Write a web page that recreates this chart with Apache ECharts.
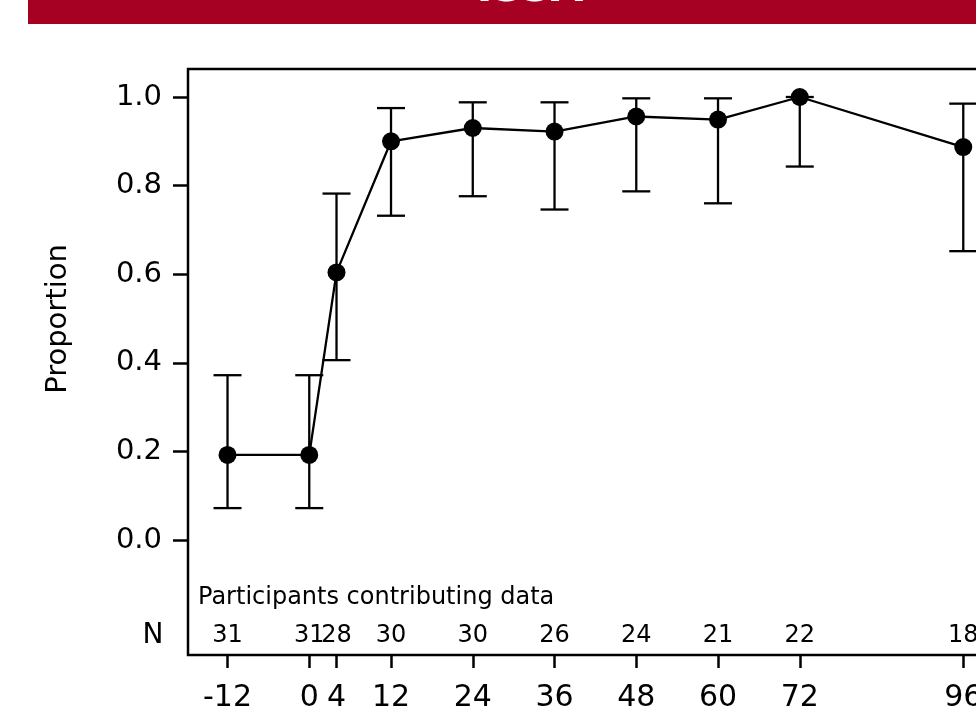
<!DOCTYPE html>
<html>
<head>
<meta charset="utf-8">
<script src="https://cdn.jsdelivr.net/npm/echarts@6/dist/echarts.min.js"></script>
<style>
html,body{margin:0;padding:0;overflow:hidden;background:#fff;width:976px;height:714px;}
#chart{width:1100px;height:800px;}
</style>
</head>
<body>
<div id="chart"></div>
<script>
// Data
var months = [-12, 0, 4, 12, 24, 36, 48, 60, 72, 96];
var proportion = [0.192, 0.192, 0.604, 0.900, 0.930, 0.922, 0.956, 0.949, 1.000, 0.887];
var lowerCI = [0.072, 0.072, 0.406, 0.732, 0.776, 0.746, 0.787, 0.760, 0.843, 0.652];
var upperCI = [0.372, 0.372, 0.782, 0.975, 0.988, 0.988, 0.997, 0.997, 1.000, 0.985];
var nParticipants = [31, 31, 28, 30, 30, 26, 24, 21, 22, 18];
var yTicks = [0, 0.2, 0.4, 0.6, 0.8, 1.0];
var titleText = 'ISSA';

var FONT = 'DejaVu Sans';
var chart = echarts.init(document.getElementById('chart'), null, {renderer: 'canvas'});

var lineData = months.map(function (m, i) { return [m, proportion[i]]; });
var errData = months.map(function (m, i) { return [m, lowerCI[i], upperCI[i]]; });

var option = {
  animation: false,
  backgroundColor: '#fff',
  grid: {
    left: 188, top: 69, width: 825, height: 586,
    show: true, borderColor: '#000', borderWidth: 2.5, backgroundColor: 'transparent'
  },
  xAxis: [{
    type: 'value', min: -17.8, max: 103.3,
    position: 'bottom',
    axisLine: {show: false, onZero: false},
    splitLine: {show: false},
    axisTick: {show: true, customValues: months, length: 13, inside: false,
      lineStyle: {color: '#000', width: 2.5}},
    axisLabel: {customValues: months, margin: 28, color: '#000', fontFamily: FONT, fontSize: 30,
      formatter: function (v) { return String(v); }}
  }, {
    type: 'value', min: -17.8, max: 103.3,
    position: 'bottom',
    axisLine: {show: false, onZero: false},
    splitLine: {show: false},
    axisTick: {show: false},
    axisLabel: {customValues: months, inside: true, margin: 7, color: '#000', fontFamily: FONT, fontSize: 24,
      formatter: function (v) {
        var i = months.indexOf(v);
        return i >= 0 ? String(nParticipants[i]) : '';
      }}
  }],
  yAxis: {
    type: 'value', min: -0.2596, max: 1.0632,
    axisLine: {show: false, onZero: false},
    splitLine: {show: false},
    axisTick: {show: true, customValues: yTicks, length: 15, lineStyle: {color: '#000', width: 2.5}},
    axisLabel: {customValues: yTicks, margin: 26, color: '#000', fontFamily: FONT, fontSize: 29,
      formatter: function (v) { return v.toFixed(1); }}
  },
  graphic: [
    {type: 'rect', left: 28, top: 0, shape: {width: 1100, height: 24}, style: {fill: '#A60022'}, z: 10},
    {type: 'text', x: 530, y: 11.5, z: 11,
      style: {text: titleText, fill: '#fff', font: 'bold 42px "DejaVu Sans"', textAlign: 'center', textVerticalAlign: 'bottom'}},
    {type: 'text', x: 58, y: 319, rotation: Math.PI / 2, z: 11,
      style: {text: 'Proportion', fill: '#000', font: '29px "DejaVu Sans"', textAlign: 'center', textVerticalAlign: 'middle'}},
    {type: 'text', x: 198, y: 598, z: 11,
      style: {text: 'Participants contributing data', fill: '#000', font: '24px "DejaVu Sans"', textAlign: 'left', textVerticalAlign: 'middle'}},
    {type: 'text', x: 153, y: 636, z: 11,
      style: {text: 'N', fill: '#000', font: '28px "DejaVu Sans"', textAlign: 'center', textVerticalAlign: 'middle'}}
  ],
  series: [{
    type: 'custom',
    xAxisIndex: 0,
    data: errData,
    renderItem: function (params, api) {
      var x = api.value(0);
      var lo = api.coord([x, api.value(1)]);
      var hi = api.coord([x, api.value(2)]);
      var hw = 14;
      var st = {stroke: '#000', lineWidth: 2.3};
      return {type: 'group', children: [
        {type: 'line', shape: {x1: lo[0], y1: lo[1], x2: hi[0], y2: hi[1]}, style: st},
        {type: 'line', shape: {x1: lo[0] - hw, y1: lo[1], x2: lo[0] + hw, y2: lo[1]}, style: st},
        {type: 'line', shape: {x1: hi[0] - hw, y1: hi[1], x2: hi[0] + hw, y2: hi[1]}, style: st}
      ]};
    },
    z: 2
  }, {
    type: 'line',
    xAxisIndex: 0,
    data: lineData,
    symbol: 'circle',
    symbolSize: 18,
    itemStyle: {color: '#000'},
    lineStyle: {color: '#000', width: 2.3},
    z: 3
  }]
};
chart.setOption(option);
</script>
</body>
</html>
